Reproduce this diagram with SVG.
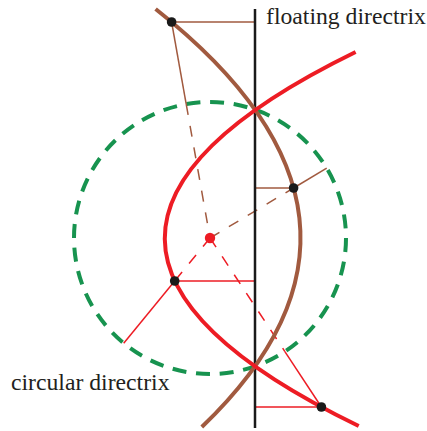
<svg xmlns="http://www.w3.org/2000/svg" width="427" height="431" viewBox="0 0 427 431">
<style>
.thinR{stroke:#ed1c24;stroke-width:1.5;fill:none}
.thinB{stroke:#a15a3f;stroke-width:1.5;fill:none}
.dash{stroke-dasharray:11 11}
.lbl{font-family:"Liberation Serif","Times New Roman",serif;font-size:23.7px;fill:#231f20}
.dot{fill:#1a1a1a}
</style>
<rect width="427" height="431" fill="#ffffff"/>
<g id="circular-directrix">
<circle cx="210" cy="238" r="136" fill="none" stroke="#17934f" stroke-width="4" stroke-dasharray="14 9.73"/>
</g>
<g id="connectors">
<line class="thinB" x1="171.6" y1="22" x2="255" y2="22"/>
<line class="thinB" x1="171.6" y1="22" x2="186.2" y2="104.1"/>
<line class="thinB dash" x1="186.2" y1="104.1" x2="210" y2="238"/>
<line class="thinB" x1="255" y1="188" x2="293.6" y2="188"/>
<line class="thinB dash" x1="210" y1="238" x2="293.6" y2="188"/>
<line class="thinB" x1="293.6" y1="188" x2="326.7" y2="168.2"/>
<line class="thinR" x1="174.7" y1="281" x2="255" y2="281"/>
<line class="thinR dash" x1="210" y1="238" x2="174.7" y2="281"/>
<line class="thinR" x1="174.7" y1="281" x2="123.7" y2="343.2"/>
<line class="thinR" x1="255" y1="407" x2="321.4" y2="407"/>
<line class="thinR dash" x1="210" y1="238" x2="284.9" y2="351.6"/>
<line class="thinR" x1="284.9" y1="351.6" x2="321.4" y2="407"/>
</g>
<g id="floating-directrix">
<line x1="255" y1="9" x2="255" y2="428" stroke="#1a1a1a" stroke-width="2.5"/>
</g>
<g id="brown-curve">
<path d="M155.6,9 Q420.1,218 201.8,427" fill="none" stroke="#a15a3f" stroke-width="4"/>
</g>
<g id="red-curve">
<path d="M355.6,52 Q-27.6,239 358.7,426" fill="none" stroke="#ed1c24" stroke-width="4"/>
</g>
<g id="points">
<circle class="dot" cx="171.6" cy="22" r="4.8"/>
<circle class="dot" cx="293.6" cy="188" r="4.8"/>
<circle class="dot" cx="174.7" cy="281" r="4.8"/>
<circle class="dot" cx="321.4" cy="407" r="4.8"/>
<circle cx="210" cy="238" r="5.2" fill="#ed1c24"/>
</g>
<g id="labels">
<text class="lbl" x="266" y="24">floating directrix</text>
<text class="lbl" x="11" y="390">circular directrix</text>
</g>
</svg>
